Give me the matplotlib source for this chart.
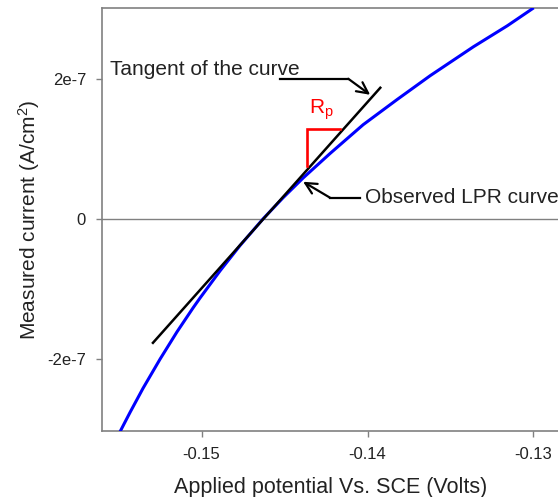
import numpy as np
import matplotlib.pyplot as plt

plt.rcParams['font.family'] = ['Liberation Sans', 'DejaVu Sans']
plt.rcParams['mathtext.fontset'] = 'custom'
plt.rcParams['mathtext.rm'] = 'Liberation Sans'
plt.rcParams['mathtext.it'] = 'Liberation Sans:italic'

# observed LPR curve (potential in V, current in A/cm2)
potencial = [-0.15492, -0.15431, -0.15353, -0.15250, -0.15148, -0.15051, -0.15009,
             -0.14888, -0.14768, -0.14629, -0.14508, -0.14388, -0.14225, -0.14026,
             -0.13821, -0.13622, -0.13362, -0.13157, -0.13006]
corriente = [-3.043e-7, -2.764e-7, -2.421e-7, -2.003e-7, -1.614e-7, -1.271e-7, -1.130e-7,
             -0.741e-7, -0.381e-7, 0.000e-7, 0.303e-7, 0.583e-7, 0.934e-7, 1.344e-7,
             1.704e-7, 2.044e-7, 2.456e-7, 2.757e-7, 3.0e-7]

# tangent line end points
tangente_x = [-0.15293, -0.13923]
tangente_y = [-1.771e-7, 1.871e-7]

# Rp bracket
rp_x = [-0.14364, -0.14364, -0.14165]
rp_y = [0.757e-7, 1.286e-7, 1.286e-7]

xticks = [-0.15, -0.14, -0.13]
xtick_labels = ['-0.15', '-0.14', '-0.13']
yticks = [-2e-7, 0, 2e-7]
ytick_labels = ['-2e-7', '0', '2e-7']

fig = plt.figure(figsize=(5.58, 4.97), dpi=100)
ax = fig.add_axes([102/558, 1 - 431/497, (560 - 102)/558, (431 - 8)/497])

gris = '#808080'
texto = '#222222'

ax.axhline(0, color=gris, lw=1.0, zorder=1)
ax.plot(potencial, corriente, color='#0000ff', lw=2.2, zorder=3,
        solid_joinstyle='round')
ax.plot(tangente_x, tangente_y, color='black', lw=1.8, zorder=4)
ax.plot(rp_x, rp_y, color='red', lw=1.9, zorder=4, solid_joinstyle='miter')

ax.set_xlim(-0.156, -0.1284)
ax.set_ylim(-3.03e-7, 3.01e-7)
ax.set_xticks(xticks)
ax.set_xticklabels(xtick_labels)
ax.set_yticks(yticks)
ax.set_yticklabels(ytick_labels)

for lado in ['left', 'bottom', 'top']:
    ax.spines[lado].set_color(gris)
    ax.spines[lado].set_linewidth(1.2)
ax.spines['right'].set_visible(False)
ax.tick_params(direction='out', length=4.5, width=1, color=gris,
               labelsize=12, labelcolor=texto, pad=7)

ax.set_xlabel('Applied potential Vs. SCE (Volts)', fontsize=15.5, color=texto, labelpad=11)
ax.set_ylabel('Measured current (A/cm$^2$)', fontsize=15, color=texto, labelpad=4)

# annotations
ax.text(-0.15552, 2.129e-7, 'Tangent of the curve', fontsize=15, color=texto,
        va='center', ha='left')
ax.plot([-0.14527, -0.14116], [2.0e-7, 2.0e-7], color='black', lw=1.6)
ax.annotate('', xy=(-0.13984, 1.771e-7), xytext=(-0.14116, 2.0e-7),
            arrowprops=dict(arrowstyle='->', color='black', lw=1.6,
                            shrinkA=0, shrinkB=0, mutation_scale=20))

ax.text(-0.14350, 1.55e-7, 'R$_\\mathrm{p}$', fontsize=15, color='red', ha='left', va='center')

ax.plot([-0.14225, -0.14044], [0.300e-7, 0.300e-7], color='black', lw=1.6)
ax.annotate('', xy=(-0.14388, 0.529e-7), xytext=(-0.14225, 0.300e-7),
            arrowprops=dict(arrowstyle='->', color='black', lw=1.6,
                            shrinkA=0, shrinkB=0, mutation_scale=20))
ax.text(-0.14014, 0.300e-7, 'Observed LPR curve', fontsize=15, color=texto,
        va='center', ha='left', clip_on=False)

plt.savefig('out.png', dpi=100)
